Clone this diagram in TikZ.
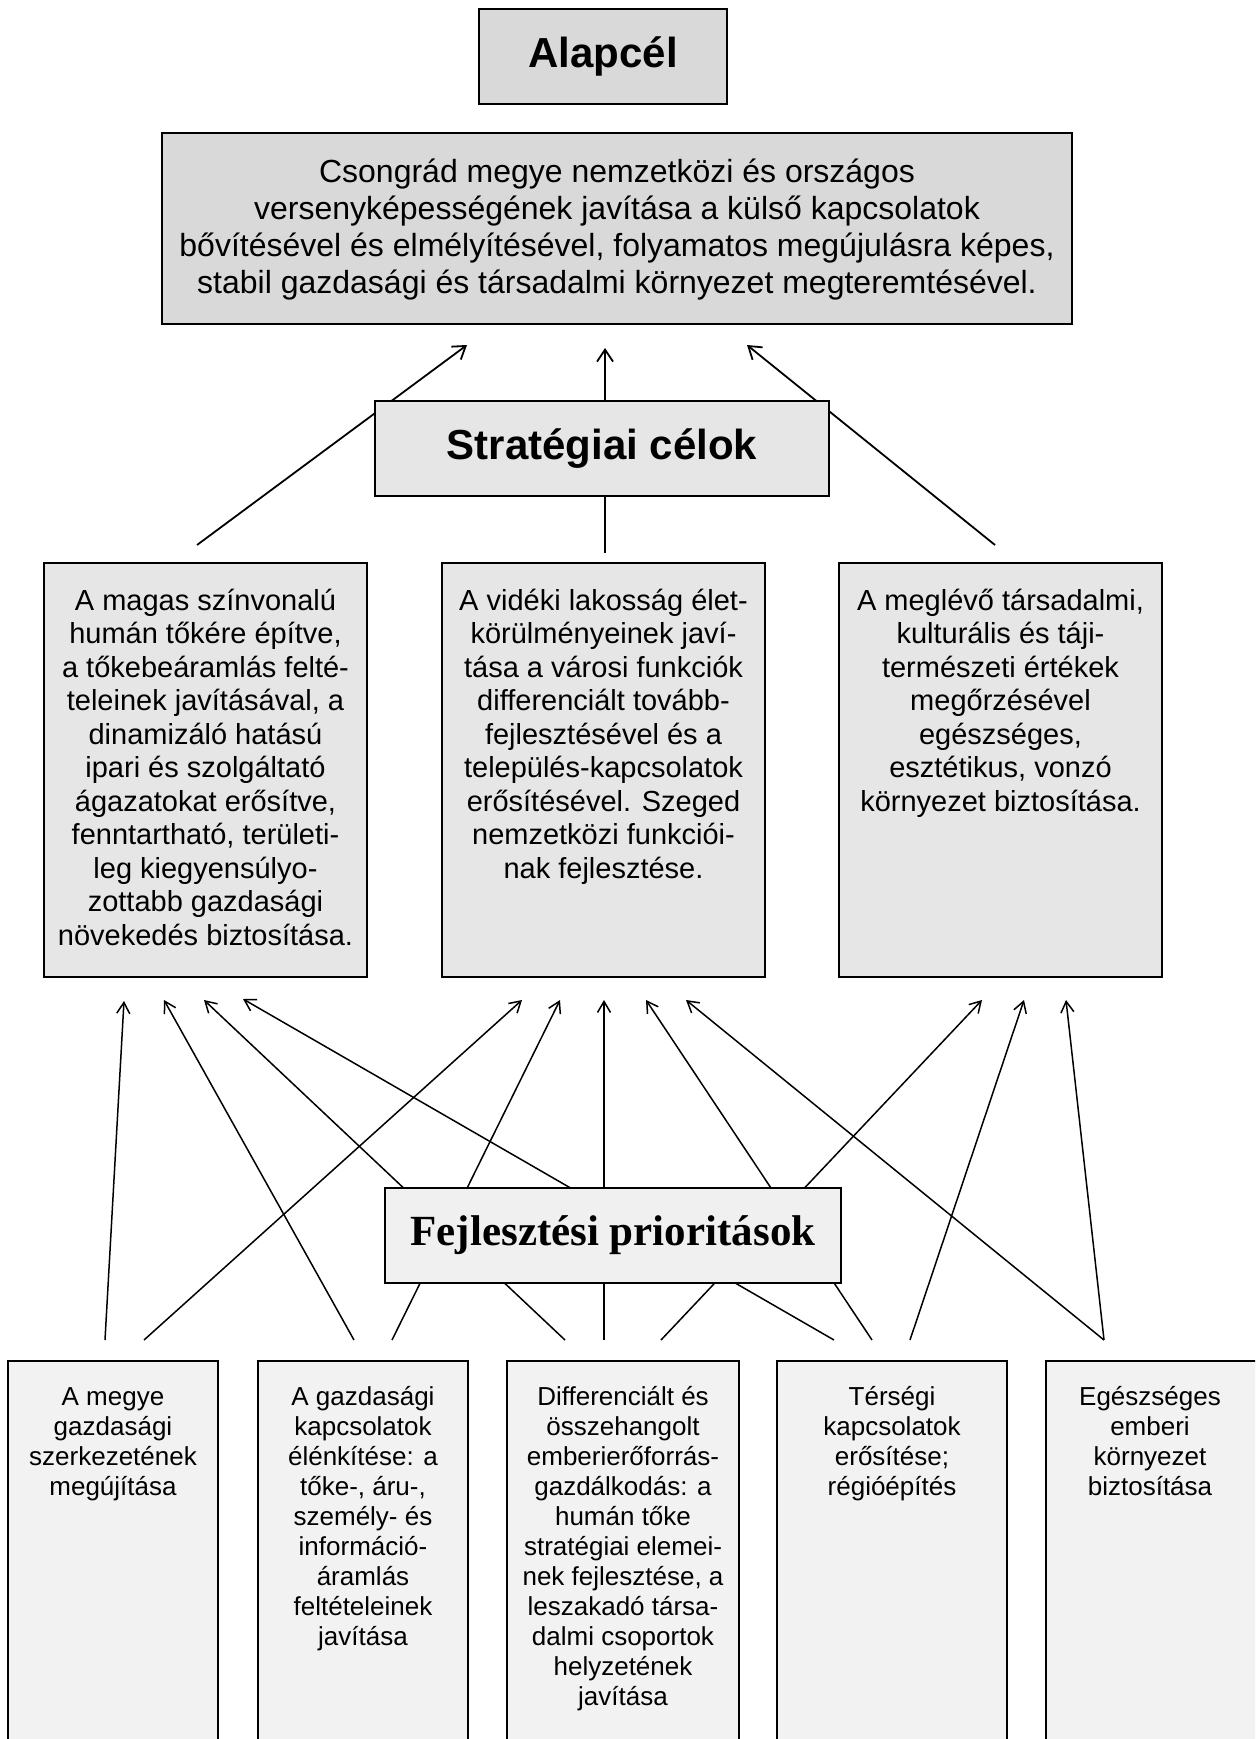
\documentclass[tikz,border=0pt]{standalone}
\usepackage{fontspec}
\setmainfont{Liberation Sans}
\newfontfamily\serifbold{Liberation Serif}
\usetikzlibrary{arrows.meta,fit}
\definecolor{cA}{HTML}{D9D9D9}
\definecolor{cS}{HTML}{E6E6E6}
\definecolor{cP}{HTML}{F0F0F0}
\definecolor{cB}{HTML}{F2F2F2}
\begin{document}
\begin{tikzpicture}[x=1pt,y=-1pt,
  bx/.style={draw=black, line width=2pt, inner sep=0pt},
  upA/.style={line width=1.8pt, -{Straight Barb[length=12pt,width=16pt]}},
  upB/.style={line width=1.5pt, -{Straight Barb[length=11pt,width=13pt]}},
  titlefont/.style={inner sep=0pt, font=\fontsize{42}{50}\selectfont\bfseries},
  maintext/.style={anchor=north, inner sep=0pt, align=center, font=\fontsize{32}{37}\selectfont},
  midtext/.style={anchor=north, inner sep=0pt, align=center, font=\fontsize{29}{33.5}\selectfont},
  lowtext/.style={anchor=north, inner sep=0pt, align=center, font=\fontsize{26}{30}\selectfont}]
\useasboundingbox (0,0) rectangle (1255,1739);
\clip (0,0) rectangle (1255,1739);

% ---------- connector end points ----------
\coordinate (g1) at (467,345);
\coordinate (g2) at (605,348);
\coordinate (g3) at (747,345);
\coordinate (s1up) at (197,545);
\coordinate (s2up) at (605,553);
\coordinate (s3up) at (995,545);

\coordinate (m1a) at (124,1001);
\coordinate (m1b) at (164,1000);
\coordinate (m1c) at (204,1000);
\coordinate (m1d) at (243,999);
\coordinate (m2a) at (522,1000);
\coordinate (m2b) at (560,1000);
\coordinate (m2c) at (604,1000);
\coordinate (m2d) at (646,1000);
\coordinate (m2e) at (686,1000);
\coordinate (m3a) at (982,1000);
\coordinate (m3b) at (1024,1000);
\coordinate (m3c) at (1066,1000);

\coordinate (p1a) at (105,1340);
\coordinate (p1b) at (144,1340);
\coordinate (p2a) at (354,1340);
\coordinate (p2b) at (392,1340);
\coordinate (p3a) at (565,1340);
\coordinate (p3b) at (604,1340);
\coordinate (p3c) at (661,1340);
\coordinate (p4a) at (834,1340);
\coordinate (p4b) at (872,1340);
\coordinate (p4c) at (910,1340);
\coordinate (p5a) at (1104,1340);

% ---------- connectors (drawn behind boxes) ----------
\draw[upA] (s1up) -- (g1);
\draw[upA] (s2up) -- (g2);
\draw[upA] (s3up) -- (g3);

\draw[upB] (p1a) -- (m1a);
\draw[upB] (p1b) -- (m2a);
\draw[upB] (p2a) -- (m1b);
\draw[upB] (p2b) -- (m2b);
\draw[upB] (p3a) -- (m1c);
\draw[upB] (p3b) -- (m2c);
\draw[upB] (p3c) -- (m3a);
\draw[upB] (p4a) -- (m1d);
\draw[upB] (p4b) -- (m2d);
\draw[upB] (p4c) -- (m3b);
\draw[upB] (p5a) -- (m2e);
\draw[upB] (p5a) -- (m3c);

% ---------- boxes ----------
\node[bx, fill=cA, fit={(479,9) (727,104)}] (alap) {};
\node[bx, fill=cA, fit={(162,133) (1072,324)}] (goal) {};
\node[bx, fill=cS, fit={(375,401) (829,496)}] (strat) {};
\node[bx, fill=cS, fit={(44,563) (367,977)}] (mid1) {};
\node[bx, fill=cS, fit={(442,563) (765,977)}] (mid2) {};
\node[bx, fill=cS, fit={(839,563) (1162,977)}] (mid3) {};
\node[bx, fill=cP, fit={(385,1188) (841,1283)}] (prio) {};
\node[bx, fill=cB, fit={(8,1361) (218,1760)}] (low1) {};
\node[bx, fill=cB, fit={(258,1361) (468,1760)}] (low2) {};
\node[bx, fill=cB, fit={(507,1361) (739,1760)}] (low3) {};
\node[bx, fill=cB, fit={(777,1361) (1007,1760)}] (low4) {};
\node[bx, fill=cB, fit={(1046,1361) (1258,1760)}] (low5) {};

% ---------- texts ----------
\node[titlefont] (alaptext) at (alap.center) {Alapcél};
\node[titlefont] (strattext) at (strat.center) {Stratégiai célok};
\node[inner sep=0pt, font=\fontsize{43}{50}\selectfont\serifbold\bfseries] (priotext) at (prio.center) {Fejlesztési prioritások};

\node[maintext] (goaltext) at (617,150) {\rule{0pt}{1em}Csongrád megye nemzetközi és országos\\
versenyképességének javítása a külső kapcsolatok\\
bővítésével és elmélyítésével, folyamatos megújulásra képes,\\
stabil gazdasági és társadalmi környezet megteremtésével.};

\node[midtext] (mid1text) at (205.5,581) {\rule{0pt}{1em}A magas színvonalú\\
humán tőkére építve,\\
a tőkebeáramlás felté-\\
teleinek javításával, a\\
dinamizáló hatású\\
ipari és szolgáltató\\
ágazatokat erősítve,\\
fenntartható, területi-\\
leg kiegyensúlyo-\\
zottabb gazdasági\\
növekedés biztosítása.};

\node[midtext] (mid2text) at (603.5,581) {\rule{0pt}{1em}A vidéki lakosság élet-\\
körülményeinek javí-\\
tása a városi funkciók\\
differenciált tovább-\\
fejlesztésével és a\\
település-kapcsolatok\\
erősítésével. Szeged\\
nemzetközi funkciói-\\
nak fejlesztése.};

\node[midtext] (mid3text) at (1000.5,581) {\rule{0pt}{1em}A meglévő társadalmi,\\
kulturális és táji-\\
természeti értékek\\
megőrzésével\\
egészséges,\\
esztétikus, vonzó\\
környezet biztosítása.};

\node[lowtext] (low1text) at (113,1379) {\rule{0pt}{1em}A megye\\
gazdasági\\
szerkezetének\\
megújítása};

\node[lowtext] (low2text) at (363,1379) {\rule{0pt}{1em}A gazdasági\\
kapcsolatok\\
élénkítése: a\\
tőke-, áru-,\\
személy- és\\
információ-\\
áramlás\\
feltételeinek\\
javítása};

\node[lowtext] (low3text) at (623,1379) {\rule{0pt}{1em}Differenciált és\\
összehangolt\\
emberierőforrás-\\
gazdálkodás: a\\
humán tőke\\
stratégiai elemei-\\
nek fejlesztése, a\\
leszakadó társa-\\
dalmi csoportok\\
helyzetének\\
javítása};

\node[lowtext] (low4text) at (892,1379) {\rule{0pt}{1em}Térségi\\
kapcsolatok\\
erősítése;\\
régióépítés};

\node[lowtext] (low5text) at (1150,1379) {\rule{0pt}{1em}Egészséges\\
emberi\\
környezet\\
biztosítása};
\end{tikzpicture}
\end{document}
